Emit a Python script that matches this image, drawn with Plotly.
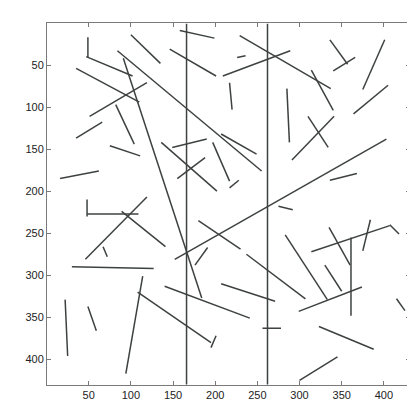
import plotly.graph_objects as go

# segment endpoints (image coordinates, y grows downward)
x_start = [49, 47, 35, 84, 100, 91, 51, 82, 35, 75, 16, 48, 48, 46, 89, 67, 30, 22, 49, 94,
           108, 201, 158, 146, 209, 226, 229, 217, 166, 262, 207, 136, 149, 155, 197, 217, 180, 152, 176, 237,
           140, 207, 256, 314, 336, 340, 375, 285, 364, 310, 291, 336, 275, 283, 335, 314, 407, 375, 361, 330,
           299, 415, 323, 300]
y_start = [17, 40, 54, 33, 14, 42, 111, 97, 137, 146, 185, 210, 227, 281, 224, 266, 290, 329, 337, 417,
           320, 372, 9, 31, 63, 41, 15, 71, 1, 1, 132, 142, 148, 185, 142, 196, 235, 281, 288, 275,
           313, 310, 363, 56, 20, 57, 79, 78, 108, 111, 163, 187, 218, 252, 243, 272, 240, 271, 255, 288,
           343, 328, 361, 425]
x_end = [49, 102, 110, 255, 135, 184, 119, 104, 66, 111, 62, 48, 109, 119, 141, 72, 127, 25, 59, 114,
         195, 195, 199, 201, 289, 236, 337, 220, 166, 262, 249, 202, 190, 188, 217, 228, 230, 403, 191, 307,
         241, 271, 278, 340, 357, 366, 401, 288, 405, 334, 341, 368, 292, 333, 360, 407, 418, 384, 361, 350,
         374, 425, 388, 345]
y_end = [41, 63, 94, 176, 48, 327, 71, 144, 118, 158, 176, 230, 227, 207, 266, 278, 292, 396, 366, 301,
         380, 386, 18, 63, 33, 39, 78, 103, 430, 430, 156, 200, 138, 160, 188, 187, 269, 138, 267, 328,
         351, 331, 363, 104, 49, 41, 20, 142, 74, 148, 111, 179, 222, 329, 288, 241, 251, 234, 348, 319,
         314, 342, 388, 397]

xs, ys = [], []
for xa, ya, xb, yb in zip(x_start, y_start, x_end, y_end):
    xs += [xa, xb, None]
    ys += [ya, yb, None]

fig = go.Figure()
fig.add_trace(go.Scatter(
    x=xs, y=ys, mode="lines",
    line=dict(color="#3d4241", width=1.5),
    showlegend=False, hoverinfo="skip"
))

axis_style = dict(
    showgrid=False, zeroline=False, automargin=False,
    showline=True, linecolor="#7a7a7a", linewidth=1, mirror="allticks",
    ticks="inside", ticklen=4, tickcolor="#7a7a7a",
    tickvals=[50, 100, 150, 200, 250, 300, 350, 400],
    tickfont=dict(family="Liberation Sans, Arial", size=11, color="#222222"),
)

fig.update_xaxes(range=[0.5, 431], **axis_style)
fig.update_yaxes(range=[430.5, 0], **axis_style)

fig.update_layout(
    width=415, height=400,
    margin=dict(l=39, r=13, t=15, b=23),
    plot_bgcolor="white", paper_bgcolor="white",
)

fig.write_html("out.html")
